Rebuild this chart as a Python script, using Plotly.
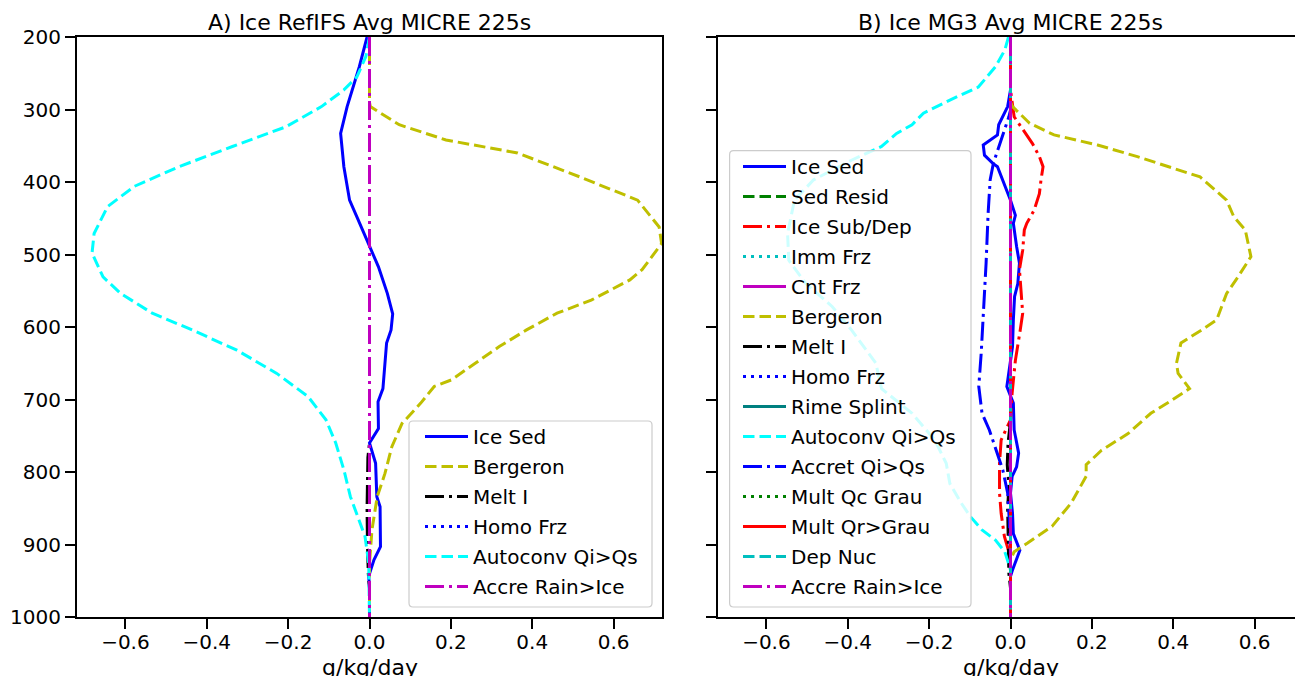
import plotly.graph_objects as go

# ---------------- Panel A: RefIFS ice tendencies (g/kg/day) vs pressure (hPa)
a_ice_sed_p = [200, 241, 296, 333, 379, 425, 448, 485, 517, 554, 582, 604, 622, 685, 703,
               740, 760, 788, 834, 848, 903, 921, 944, 960, 1000]
a_ice_sed = [-0.006, -0.025, -0.055, -0.071, -0.063, -0.049, -0.031, -0.002, 0.022, 0.044,
             0.057, 0.053, 0.042, 0.033, 0.021, 0.022, 0.0, 0.015, 0.018, 0.026, 0.027,
             0.011, -0.002, 0.0, 0.0]

a_bergeron_p = [200, 290, 296, 321, 342, 360, 393, 425, 462, 485, 521, 535, 563, 581, 604,
                627, 650, 673, 682, 705, 733, 765, 802, 834, 880, 926, 1000]
a_bergeron = [0.0, 0.0, 0.002, 0.073, 0.188, 0.364, 0.517, 0.659, 0.712, 0.718, 0.670, 0.640,
              0.545, 0.461, 0.386, 0.319, 0.260, 0.201, 0.159, 0.126, 0.080, 0.055, 0.038,
              0.019, 0.006, 0.0, 0.0]

a_melt_p = [200, 760, 780, 850, 900, 940, 960, 1000]
a_melt = [0.0, 0.0, -0.004, -0.006, -0.005, -0.003, 0.0, 0.0]

a_autoconv_p = [200, 227, 255, 273, 296, 324, 351, 379, 406, 434, 471, 498, 531, 554, 581,
                604, 632, 664, 696, 728, 760, 797, 834, 871, 889, 926, 972, 1000]
a_autoconv = [0.0, -0.009, -0.031, -0.063, -0.118, -0.206, -0.337, -0.469, -0.578, -0.644,
              -0.677, -0.682, -0.655, -0.611, -0.534, -0.436, -0.326, -0.228, -0.151, -0.107,
              -0.083, -0.063, -0.047, -0.022, -0.011, -0.002, 0.0, 0.0]

# terms that are zero through the column
zero_p = [200, 1000]
zero_v = [0.0, 0.0]

# ---------------- Panel B: MG3 ice tendencies
b_ice_sed_p = [200, 273, 296, 310, 321, 335, 349, 363, 374, 379, 425, 446, 457, 489, 512, 540,
               558, 590, 627, 682, 705, 742, 774, 793, 806, 829, 857, 885, 908, 935, 944, 1000]
b_ice_sed = [0.0, 0.0, -0.007, -0.019, -0.029, -0.032, -0.067, -0.064, -0.044, -0.032, 0.0,
             0.012, 0.007, 0.015, 0.022, 0.018, 0.010, 0.007, 0.005, -0.009, 0.007, 0.009,
             0.020, 0.015, 0.004, 0.0, 0.005, 0.007, 0.023, 0.005, 0.0, 0.0]

b_subdep_p = [200, 273, 310, 328, 347, 365, 379, 397, 416, 439, 457, 466, 494, 521, 558, 581,
              604, 618, 646, 691, 728, 756, 788, 829, 857, 889, 912, 935, 1000]
b_subdep = [0.0, 0.0, 0.009, 0.030, 0.054, 0.071, 0.080, 0.075, 0.071, 0.058, 0.040, 0.034,
            0.030, 0.022, 0.026, 0.030, 0.024, 0.020, 0.012, 0.004, 0.0, -0.023, -0.027,
            -0.027, -0.023, -0.015, -0.003, 0.0, 0.0]

b_bergeron_p = [200, 290, 296, 319, 335, 349, 365, 393, 425, 448, 466, 503, 531, 554, 590, 604,
                622, 650, 664, 685, 703, 719, 747, 770, 790, 806, 843, 875, 898, 910, 921, 1000]
b_bergeron = [0.0, 0.0, 0.005, 0.047, 0.107, 0.214, 0.312, 0.466, 0.531, 0.549, 0.577, 0.591,
              0.559, 0.531, 0.507, 0.470, 0.419, 0.408, 0.412, 0.440, 0.391, 0.345, 0.289,
              0.224, 0.186, 0.186, 0.149, 0.102, 0.042, 0.009, 0.0, 0.0]

b_melt_p = [200, 730, 760, 790, 820, 850, 880, 910, 940, 960, 1000]
b_melt = [0.0, 0.0, -0.006, -0.008, -0.004, -0.007, -0.006, -0.005, -0.004, 0.0, 0.0]

b_autoconv_p = [200, 218, 241, 269, 287, 305, 321, 333, 351, 370, 397, 425, 471, 508, 540, 572,
                604, 650, 685, 719, 756, 788, 816, 843, 862, 880, 894, 910, 926, 935, 1000]
b_autoconv = [-0.005, -0.014, -0.037, -0.079, -0.149, -0.214, -0.242, -0.280, -0.317, -0.391,
              -0.484, -0.531, -0.548, -0.545, -0.503, -0.438, -0.391, -0.331, -0.317, -0.242,
              -0.186, -0.158, -0.149, -0.121, -0.098, -0.070, -0.037, -0.014, -0.005, 0.0, 0.0]

b_accret_p = [200, 301, 310, 328, 351, 374, 397, 443, 512, 558, 604, 636, 682, 719, 742, 774,
              797, 829, 866, 912, 1000]
b_accret = [0.0, 0.0, -0.004, -0.015, -0.029, -0.042, -0.050, -0.055, -0.060, -0.064, -0.068,
            -0.072, -0.078, -0.070, -0.052, -0.032, -0.019, -0.007, -0.003, 0.0, 0.0]

y_ticks = [200, 300, 400, 500, 600, 700, 800, 900, 1000]
x_ticks = [-0.6, -0.4, -0.2, 0.0, 0.2, 0.4, 0.6]
XLIM = 0.719

# ---------------- styling
LW = 3
DASH = "11.5px,5px"
DASHDOT = "19px,5px,3px,5px"
DOT = "3px,5px"
FONT = "DejaVu Sans"

C_B, C_Y, C_K = "#0000ff", "#bfbf00", "#000000"
C_CYAN, C_M, C_G = "#00ffff", "#bf00bf", "#008000"
C_R, C_C, C_TEAL = "#ff0000", "#00bfbf", "#008080"

panel_a = [
    ("Ice Sed", a_ice_sed_p, a_ice_sed, C_B, "solid"),
    ("Bergeron", a_bergeron_p, a_bergeron, C_Y, DASH),
    ("Melt I", a_melt_p, a_melt, C_K, DASHDOT),
    ("Homo Frz", zero_p, zero_v, C_B, DOT),
    ("Autoconv Qi>Qs", a_autoconv_p, a_autoconv, C_CYAN, DASH),
    ("Accre Rain>Ice", zero_p, zero_v, C_M, DASHDOT),
]

panel_b = [
    ("Ice Sed", b_ice_sed_p, b_ice_sed, C_B, "solid"),
    ("Sed Resid", zero_p, zero_v, C_G, DASH),
    ("Ice Sub/Dep", b_subdep_p, b_subdep, C_R, DASHDOT),
    ("Imm Frz", zero_p, zero_v, C_C, DOT),
    ("Cnt Frz", zero_p, zero_v, C_M, "solid"),
    ("Bergeron", b_bergeron_p, b_bergeron, C_Y, DASH),
    ("Melt I", b_melt_p, b_melt, C_K, DASHDOT),
    ("Homo Frz", zero_p, zero_v, C_B, DOT),
    ("Rime Splint", zero_p, zero_v, C_TEAL, "solid"),
    ("Autoconv Qi>Qs", b_autoconv_p, b_autoconv, C_CYAN, DASH),
    ("Accret Qi>Qs", b_accret_p, b_accret, C_B, DASHDOT),
    ("Mult Qc Grau", zero_p, zero_v, C_G, DOT),
    ("Mult Qr>Grau", zero_p, zero_v, C_R, "solid"),
    ("Dep Nuc", zero_p, zero_v, C_C, DASH),
    ("Accre Rain>Ice", zero_p, zero_v, C_M, DASHDOT),
]

fig = go.Figure()
for i, (name, p, v, col, dash) in enumerate(panel_a):
    fig.add_trace(go.Scatter(x=v, y=p, mode="lines", name=name,
                             line=dict(color=col, width=LW, dash=dash),
                             xaxis="x", yaxis="y", legend="legend",
                             legendgroup=f"a{i}"))
for i, (name, p, v, col, dash) in enumerate(panel_b):
    fig.add_trace(go.Scatter(x=v, y=p, mode="lines", name=name,
                             line=dict(color=col, width=LW, dash=dash),
                             xaxis="x2", yaxis="y2", legend="legend2",
                             legendgroup=f"b{i}"))

# ---------------- layout geometry (pixels)
W, H = 1295, 676
ML, MT, MB = 77, 37, 59
PW = W - ML
PH = H - MT - MB
a_left, a_right = 77, 662
b_left, b_right = 718, 1295


def px_x(px):
    return (px - ML) / PW


def px_y(py):
    return (H - MB - py) / PH


def rounded_box(x0, y0, x1, y1, r=4):
    """SVG path (paper coords) of a rounded rectangle given in pixels."""
    pts = [
        ("M", x0 + r, y0), ("L", x1 - r, y0), ("Q", x1, y0, x1, y0 + r),
        ("L", x1, y1 - r), ("Q", x1, y1, x1 - r, y1), ("L", x0 + r, y1),
        ("Q", x0, y1, x0, y1 - r), ("L", x0, y0 + r), ("Q", x0, y0, x0 + r, y0),
    ]
    out = []
    for seg in pts:
        cmd, coords = seg[0], seg[1:]
        conv = []
        for k in range(0, len(coords), 2):
            conv.append(f"{px_x(coords[k]):.5f},{px_y(coords[k + 1]):.5f}")
        out.append(cmd + " ".join(conv))
    return " ".join(out) + " Z"


b_xmax = -XLIM + 2 * XLIM * (b_right - b_left) / (a_right - a_left)

axis_common = dict(showgrid=False, zeroline=False, showline=True, linecolor="black",
                   linewidth=2, ticks="outside", ticklen=10, tickwidth=2, tickcolor="black",
                   tickfont=dict(family=FONT, size=20, color="black"))

legend_common = dict(bgcolor="rgba(0,0,0,0)", borderwidth=0,
                     font=dict(family=FONT, size=20, color="black"), tracegroupgap=1,
                     itemwidth=43, xanchor="left", yanchor="bottom")

fig.update_layout(
    width=W, height=H,
    margin=dict(l=ML, r=0, t=MT, b=MB, autoexpand=False),
    paper_bgcolor="white", plot_bgcolor="white",
    font=dict(family=FONT, size=20, color="black"),
    xaxis=dict(domain=[px_x(a_left), px_x(a_right)], range=[-XLIM, XLIM], mirror=True,
               tickvals=x_ticks, tickformat=".1f", anchor="y", ticklabelstandoff=-4,
               **axis_common),
    yaxis=dict(domain=[0, 1], range=[1000, 200], mirror=True, tickvals=y_ticks,
               anchor="x", **axis_common),
    xaxis2=dict(domain=[px_x(b_left), px_x(b_right)], range=[-XLIM, b_xmax], mirror=True,
                tickvals=x_ticks, tickformat=".1f", anchor="y2", ticklabelstandoff=-4,
                **axis_common),
    yaxis2=dict(domain=[0, 1], range=[1000, 200], mirror=False, tickvals=y_ticks,
                showticklabels=False, anchor="x2", **axis_common),
    legend=dict(x=px_x(420), y=px_y(606), **legend_common),
    legend2=dict(x=px_x(738), y=px_y(606), **legend_common),
    showlegend=True,
)

# legend frames: translucent white, light grey edge, rounded corners
for box in [(409, 421, 652, 607), (729.6, 150.7, 971, 607)]:
    fig.add_shape(type="path", xref="paper", yref="paper", layer="above",
                  path=rounded_box(*box), fillcolor="rgba(255,255,255,0.8)",
                  line=dict(color="#cccccc", width=1.2))

title_font = dict(family=FONT, size=22, color="black")
for xref, text in [("x", "A) Ice RefIFS Avg MICRE 225s"), ("x2", "B) Ice MG3 Avg MICRE 225s")]:
    fig.add_annotation(xref=xref, x=0, yref="paper", y=1, yanchor="bottom", yshift=0,
                       text=text, showarrow=False, font=title_font)
    fig.add_annotation(xref=xref, x=0, yref="paper", y=0, yanchor="top", yshift=-36,
                       text="g/kg/day", showarrow=False, font=title_font)

fig.write_html("out.html")
